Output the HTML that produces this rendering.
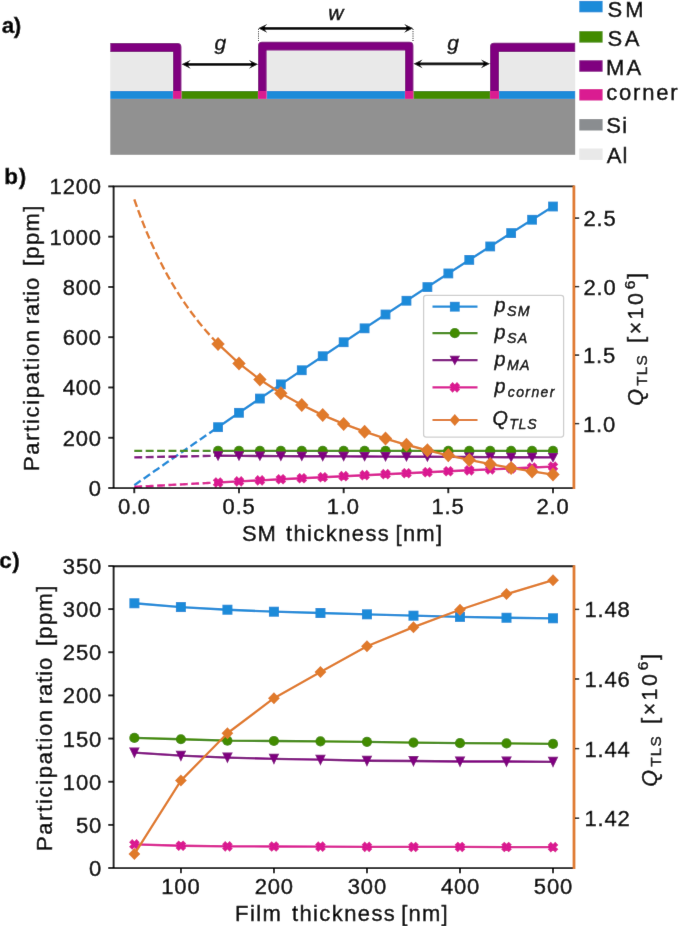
<!DOCTYPE html><html><head><meta charset="utf-8"><style>html,body{margin:0;padding:0;background:#fff;width:685px;height:926px;overflow:hidden}svg{display:block;font-family:"Liberation Sans",sans-serif}text{stroke:#000;stroke-width:0.4px}#w{width:685px;height:926px}</style></head><body><div id="w"><svg width="685" height="926" viewBox="0 0 685 926" font-family='"Liberation Sans", sans-serif'><defs><filter id="bl" filterUnits="userSpaceOnUse" x="-8" y="-8" width="701" height="942"><feConvolveMatrix order="3" kernelMatrix="0.00276 0.04704 0.00276 0.04704 0.80077 0.04704 0.00276 0.04704 0.00276" edgeMode="duplicate" preserveAlpha="true"/></filter></defs><g filter="url(#bl)"><rect x="-8" y="-8" width="701" height="942" fill="#fff"/><rect x="110.3" y="98.9" width="464.9" height="55.9" fill="#919191"/><rect x="110.3" y="91" width="62.7" height="7.9" fill="#1f8bd9"/><rect x="266.6" y="91" width="138.4" height="7.9" fill="#1f8bd9"/><rect x="499" y="91" width="76.2" height="7.9" fill="#1f8bd9"/><rect x="181.4" y="91" width="76.6" height="7.9" fill="#438b00"/><rect x="413.4" y="91" width="76.6" height="7.9" fill="#438b00"/><rect x="173" y="91" width="8.4" height="7.9" fill="#da1a91"/><rect x="258" y="91" width="8.6" height="7.9" fill="#da1a91"/><rect x="405" y="91" width="8.4" height="7.9" fill="#da1a91"/><rect x="490" y="91" width="9" height="7.9" fill="#da1a91"/><rect x="110.3" y="51.9" width="62.7" height="39.1" fill="#e9e9e9"/><rect x="266.6" y="50.4" width="138.4" height="40.6" fill="#e9e9e9"/><rect x="499" y="52.1" width="76.2" height="38.9" fill="#e9e9e9"/><path d="M110.3 43H177.4Q181.4 43 181.4 47V91H173V51.9H110.3Z" fill="#800080"/><path d="M258 91V45.8Q258 41.8 262 41.8H409.4Q413.4 41.8 413.4 45.8V91H405V50.4H266.6V91Z" fill="#800080"/><path d="M490 91V46.8Q490 42.8 494 42.8H575.2V52.1H499V91Z" fill="#800080"/><path d="M258.5 29V42M413 29V42" stroke="#000" stroke-width="0.9" stroke-dasharray="1,1.2" fill="none"/><path d="M262.4 28.3H409" stroke="#000" stroke-width="2.8" fill="none"/><path d="M258.2 28.3L267.2 23.9L263.68 28.3L267.2 32.7Z" fill="#000"/><path d="M413.2 28.3L404.2 23.9L407.72 28.3L404.2 32.7Z" fill="#000"/><path d="M185.8 64.3H253.8" stroke="#000" stroke-width="2.8" fill="none"/><path d="M181.6 64.3L190.6 59.9L187.08 64.3L190.6 68.7Z" fill="#000"/><path d="M258 64.3L249 59.9L252.52 64.3L249 68.7Z" fill="#000"/><path d="M417.7 63.8H485.8" stroke="#000" stroke-width="2.8" fill="none"/><path d="M413.5 63.8L422.5 59.4L418.98 63.8L422.5 68.2Z" fill="#000"/><path d="M490 63.8L481 59.4L484.52 63.8L481 68.2Z" fill="#000"/><text x="214.56" y="49.5" font-size="21" font-style="italic">g</text><text x="447.26" y="49.5" font-size="21" font-style="italic">g</text><text x="328.35" y="19.6" font-size="21" font-style="italic">w</text><text x="1.74" y="33.2" font-size="22.5" letter-spacing="-0.5" font-weight="bold">a)</text><rect x="579.3" y="0.9" width="23.3" height="11.4" fill="#1f8bd9"/><text x="607.6" y="16.8" font-size="22" letter-spacing="2.9">SM</text><rect x="579.3" y="31.2" width="23.3" height="11.4" fill="#438b00"/><text x="607.6" y="45.6" font-size="22" letter-spacing="2.6">SA</text><rect x="579.3" y="60.3" width="23.3" height="11.4" fill="#800080"/><text x="606.1" y="75" font-size="22" letter-spacing="2.05">MA</text><rect x="579.3" y="89.1" width="23.3" height="11.4" fill="#da1a91"/><text x="606.37" y="99.9" font-size="22" letter-spacing="1.75">corner</text><rect x="579.3" y="119.1" width="23.3" height="11.4" fill="#8a8d90"/><text x="606.3" y="132.7" font-size="22" letter-spacing="1.4">Si</text><rect x="579.3" y="148.5" width="23.3" height="11.4" fill="#e9e9e9"/><text x="606.66" y="163.1" font-size="22" letter-spacing="1.05">Al</text><path d="M134.3 485.24L136.39 483.77L138.49 482.3L140.58 480.84L142.67 479.38L144.77 477.91L146.86 476.45L148.95 474.99L151.05 473.53L153.14 472.07L155.24 470.61L157.33 469.15L159.42 467.69L161.52 466.23L163.61 464.78L165.7 463.32L167.8 461.86L169.89 460.41L171.98 458.96L174.08 457.5L176.17 456.05L178.26 454.6L180.36 453.15L182.45 451.7L184.54 450.25L186.64 448.8L188.73 447.35L190.82 445.91L192.92 444.46L195.01 443.01L197.11 441.57L199.2 440.12L201.29 438.68L203.39 437.24L205.48 435.8L207.57 434.35L209.67 432.91L211.76 431.47L213.85 430.03L215.95 428.6L218.04 427.16" fill="none" stroke="#1f8bd9" stroke-width="2.4" stroke-linejoin="round" stroke-dasharray="7.9,3.5"/><path d="M134.3 450.9L136.39 450.9L138.49 450.9L140.58 450.9L142.67 450.9L144.77 450.9L146.86 450.9L148.95 450.9L151.05 450.9L153.14 450.9L155.24 450.9L157.33 450.9L159.42 450.9L161.52 450.9L163.61 450.9L165.7 450.9L167.8 450.9L169.89 450.9L171.98 450.9L174.08 450.9L176.17 450.9L178.26 450.9L180.36 450.9L182.45 450.9L184.54 450.9L186.64 450.9L188.73 450.9L190.82 450.9L192.92 450.9L195.01 450.9L197.11 450.9L199.2 450.9L201.29 450.9L203.39 450.9L205.48 450.9L207.57 450.9L209.67 450.9L211.76 450.9L213.85 450.9L215.95 450.9L218.04 450.9" fill="none" stroke="#438b00" stroke-width="2.4" stroke-linejoin="round" stroke-dasharray="7.9,3.5"/><path d="M134.3 457.34L218.04 455.78" fill="none" stroke="#800080" stroke-width="2.4" stroke-linejoin="round" stroke-dasharray="7.9,3.5"/><path d="M134.3 486.89L136.39 486.78L138.49 486.67L140.58 486.56L142.67 486.44L144.77 486.33L146.86 486.22L148.95 486.11L151.05 486L153.14 485.88L155.24 485.77L157.33 485.66L159.42 485.55L161.52 485.44L163.61 485.33L165.7 485.21L167.8 485.1L169.89 484.99L171.98 484.88L174.08 484.77L176.17 484.66L178.26 484.55L180.36 484.44L182.45 484.33L184.54 484.22L186.64 484.11L188.73 484L190.82 483.89L192.92 483.78L195.01 483.67L197.11 483.56L199.2 483.45L201.29 483.34L203.39 483.23L205.48 483.12L207.57 483.02L209.67 482.91L211.76 482.8L213.85 482.69L215.95 482.58L218.04 482.47" fill="none" stroke="#da1a91" stroke-width="2.4" stroke-linejoin="round" stroke-dasharray="7.9,3.5"/><path d="M134.3 199.35L136.39 205.34L138.49 211.12L140.58 216.72L142.67 222.14L144.77 227.38L146.86 232.47L148.95 237.4L151.05 242.18L153.14 246.82L155.24 251.32L157.33 255.7L159.42 259.95L161.52 264.08L163.61 268.09L165.7 272L167.8 275.8L169.89 279.51L171.98 283.11L174.08 286.62L176.17 290.05L178.26 293.38L180.36 296.64L182.45 299.81L184.54 302.91L186.64 305.93L188.73 308.88L190.82 311.77L192.92 314.58L195.01 317.33L197.11 320.02L199.2 322.65L201.29 325.22L203.39 327.73L205.48 330.19L207.57 332.6L209.67 334.96L211.76 337.27L213.85 339.53L215.95 341.74L218.04 343.91" fill="none" stroke="#e07a2a" stroke-width="2.4" stroke-linejoin="round" stroke-dasharray="7.9,3.5"/><path d="M218.04 427.16L238.98 412.82L259.91 398.56L280.85 384.37L301.78 370.25L322.72 356.2L343.65 342.23L364.59 328.33L385.52 314.5L406.46 300.75L427.39 287.07L448.32 273.46L469.26 259.92L490.2 246.46L511.13 233.07L532.07 219.75L553 206.51" fill="none" stroke="#1f8bd9" stroke-width="2.4" stroke-linejoin="round"/><rect x="213.14" y="422.26" width="9.8" height="9.8" fill="#1f8bd9"/><rect x="234.08" y="407.92" width="9.8" height="9.8" fill="#1f8bd9"/><rect x="255.01" y="393.66" width="9.8" height="9.8" fill="#1f8bd9"/><rect x="275.95" y="379.47" width="9.8" height="9.8" fill="#1f8bd9"/><rect x="296.88" y="365.35" width="9.8" height="9.8" fill="#1f8bd9"/><rect x="317.82" y="351.3" width="9.8" height="9.8" fill="#1f8bd9"/><rect x="338.75" y="337.33" width="9.8" height="9.8" fill="#1f8bd9"/><rect x="359.69" y="323.43" width="9.8" height="9.8" fill="#1f8bd9"/><rect x="380.62" y="309.6" width="9.8" height="9.8" fill="#1f8bd9"/><rect x="401.56" y="295.85" width="9.8" height="9.8" fill="#1f8bd9"/><rect x="422.49" y="282.17" width="9.8" height="9.8" fill="#1f8bd9"/><rect x="443.43" y="268.56" width="9.8" height="9.8" fill="#1f8bd9"/><rect x="464.36" y="255.02" width="9.8" height="9.8" fill="#1f8bd9"/><rect x="485.3" y="241.56" width="9.8" height="9.8" fill="#1f8bd9"/><rect x="506.23" y="228.17" width="9.8" height="9.8" fill="#1f8bd9"/><rect x="527.17" y="214.85" width="9.8" height="9.8" fill="#1f8bd9"/><rect x="548.1" y="201.61" width="9.8" height="9.8" fill="#1f8bd9"/><path d="M218.04 450.9L238.98 450.9L259.91 450.9L280.85 450.9L301.78 450.9L322.72 450.9L343.65 450.9L364.59 450.9L385.52 450.9L406.46 450.9L427.39 450.9L448.32 450.9L469.26 450.9L490.2 450.9L511.13 450.9L532.07 450.9L553 450.9" fill="none" stroke="#438b00" stroke-width="2.4" stroke-linejoin="round"/><circle cx="218.04" cy="450.9" r="5.1" fill="#438b00"/><circle cx="238.98" cy="450.9" r="5.1" fill="#438b00"/><circle cx="259.91" cy="450.9" r="5.1" fill="#438b00"/><circle cx="280.85" cy="450.9" r="5.1" fill="#438b00"/><circle cx="301.78" cy="450.9" r="5.1" fill="#438b00"/><circle cx="322.72" cy="450.9" r="5.1" fill="#438b00"/><circle cx="343.65" cy="450.9" r="5.1" fill="#438b00"/><circle cx="364.59" cy="450.9" r="5.1" fill="#438b00"/><circle cx="385.52" cy="450.9" r="5.1" fill="#438b00"/><circle cx="406.46" cy="450.9" r="5.1" fill="#438b00"/><circle cx="427.39" cy="450.9" r="5.1" fill="#438b00"/><circle cx="448.32" cy="450.9" r="5.1" fill="#438b00"/><circle cx="469.26" cy="450.9" r="5.1" fill="#438b00"/><circle cx="490.2" cy="450.9" r="5.1" fill="#438b00"/><circle cx="511.13" cy="450.9" r="5.1" fill="#438b00"/><circle cx="532.07" cy="450.9" r="5.1" fill="#438b00"/><circle cx="553" cy="450.9" r="5.1" fill="#438b00"/><path d="M218.04 455.78L238.98 455.88L259.91 455.98L280.85 456.08L301.78 456.18L322.72 456.28L343.65 456.38L364.59 456.48L385.52 456.58L406.46 456.68L427.39 456.78L448.32 456.89L469.26 456.99L490.2 457.09L511.13 457.19L532.07 457.29L553 457.39" fill="none" stroke="#800080" stroke-width="2.4" stroke-linejoin="round"/><path d="M212.79 451.27L223.29 451.27L218.04 461.17Z" fill="#800080"/><path d="M233.73 451.37L244.23 451.37L238.98 461.27Z" fill="#800080"/><path d="M254.66 451.47L265.16 451.47L259.91 461.37Z" fill="#800080"/><path d="M275.6 451.57L286.1 451.57L280.85 461.47Z" fill="#800080"/><path d="M296.53 451.67L307.03 451.67L301.78 461.57Z" fill="#800080"/><path d="M317.47 451.77L327.97 451.77L322.72 461.67Z" fill="#800080"/><path d="M338.4 451.87L348.9 451.87L343.65 461.77Z" fill="#800080"/><path d="M359.34 451.98L369.84 451.98L364.59 461.87Z" fill="#800080"/><path d="M380.27 452.08L390.77 452.08L385.52 461.97Z" fill="#800080"/><path d="M401.21 452.18L411.71 452.18L406.46 462.07Z" fill="#800080"/><path d="M422.14 452.28L432.64 452.28L427.39 462.17Z" fill="#800080"/><path d="M443.07 452.38L453.57 452.38L448.32 462.28Z" fill="#800080"/><path d="M464.01 452.48L474.51 452.48L469.26 462.38Z" fill="#800080"/><path d="M484.95 452.58L495.45 452.58L490.2 462.48Z" fill="#800080"/><path d="M505.88 452.68L516.38 452.68L511.13 462.58Z" fill="#800080"/><path d="M526.82 452.78L537.32 452.78L532.07 462.68Z" fill="#800080"/><path d="M547.75 452.88L558.25 452.88L553 462.78Z" fill="#800080"/><path d="M218.04 482.47L238.98 481.4L259.91 480.33L280.85 479.28L301.78 478.23L322.72 477.2L343.65 476.18L364.59 475.18L385.52 474.18L406.46 473.2L427.39 472.22L448.32 471.26L469.26 470.31L490.2 469.37L511.13 468.45L532.07 467.53L553 466.63" fill="none" stroke="#da1a91" stroke-width="2.4" stroke-linejoin="round"/><path d="M215.84 478.07L218.04 480.27L220.24 478.07L222.44 480.27L220.24 482.47L222.44 484.67L220.24 486.87L218.04 484.67L215.84 486.87L213.64 484.67L215.84 482.47L213.64 480.27Z" fill="#da1a91" stroke="#da1a91" stroke-width="1.3"/><path d="M236.78 477L238.98 479.2L241.18 477L243.38 479.2L241.18 481.4L243.38 483.6L241.18 485.8L238.98 483.6L236.78 485.8L234.58 483.6L236.78 481.4L234.58 479.2Z" fill="#da1a91" stroke="#da1a91" stroke-width="1.3"/><path d="M257.71 475.93L259.91 478.13L262.11 475.93L264.31 478.13L262.11 480.33L264.31 482.53L262.11 484.73L259.91 482.53L257.71 484.73L255.51 482.53L257.71 480.33L255.51 478.13Z" fill="#da1a91" stroke="#da1a91" stroke-width="1.3"/><path d="M278.65 474.88L280.85 477.08L283.05 474.88L285.25 477.08L283.05 479.28L285.25 481.48L283.05 483.68L280.85 481.48L278.65 483.68L276.45 481.48L278.65 479.28L276.45 477.08Z" fill="#da1a91" stroke="#da1a91" stroke-width="1.3"/><path d="M299.58 473.83L301.78 476.03L303.98 473.83L306.18 476.03L303.98 478.23L306.18 480.43L303.98 482.63L301.78 480.43L299.58 482.63L297.38 480.43L299.58 478.23L297.38 476.03Z" fill="#da1a91" stroke="#da1a91" stroke-width="1.3"/><path d="M320.52 472.8L322.72 475L324.92 472.8L327.12 475L324.92 477.2L327.12 479.4L324.92 481.6L322.72 479.4L320.52 481.6L318.32 479.4L320.52 477.2L318.32 475Z" fill="#da1a91" stroke="#da1a91" stroke-width="1.3"/><path d="M341.45 471.78L343.65 473.98L345.85 471.78L348.05 473.98L345.85 476.18L348.05 478.38L345.85 480.58L343.65 478.38L341.45 480.58L339.25 478.38L341.45 476.18L339.25 473.98Z" fill="#da1a91" stroke="#da1a91" stroke-width="1.3"/><path d="M362.39 470.78L364.59 472.98L366.79 470.78L368.99 472.98L366.79 475.18L368.99 477.38L366.79 479.58L364.59 477.38L362.39 479.58L360.19 477.38L362.39 475.18L360.19 472.98Z" fill="#da1a91" stroke="#da1a91" stroke-width="1.3"/><path d="M383.32 469.78L385.52 471.98L387.72 469.78L389.92 471.98L387.72 474.18L389.92 476.38L387.72 478.58L385.52 476.38L383.32 478.58L381.12 476.38L383.32 474.18L381.12 471.98Z" fill="#da1a91" stroke="#da1a91" stroke-width="1.3"/><path d="M404.26 468.8L406.46 471L408.66 468.8L410.86 471L408.66 473.2L410.86 475.4L408.66 477.6L406.46 475.4L404.26 477.6L402.06 475.4L404.26 473.2L402.06 471Z" fill="#da1a91" stroke="#da1a91" stroke-width="1.3"/><path d="M425.19 467.82L427.39 470.02L429.59 467.82L431.79 470.02L429.59 472.22L431.79 474.42L429.59 476.62L427.39 474.42L425.19 476.62L422.99 474.42L425.19 472.22L422.99 470.02Z" fill="#da1a91" stroke="#da1a91" stroke-width="1.3"/><path d="M446.12 466.86L448.32 469.06L450.52 466.86L452.72 469.06L450.52 471.26L452.72 473.46L450.52 475.66L448.32 473.46L446.12 475.66L443.93 473.46L446.12 471.26L443.93 469.06Z" fill="#da1a91" stroke="#da1a91" stroke-width="1.3"/><path d="M467.06 465.91L469.26 468.11L471.46 465.91L473.66 468.11L471.46 470.31L473.66 472.51L471.46 474.71L469.26 472.51L467.06 474.71L464.86 472.51L467.06 470.31L464.86 468.11Z" fill="#da1a91" stroke="#da1a91" stroke-width="1.3"/><path d="M488 464.97L490.2 467.17L492.4 464.97L494.6 467.17L492.4 469.37L494.6 471.57L492.4 473.77L490.2 471.57L488 473.77L485.8 471.57L488 469.37L485.8 467.17Z" fill="#da1a91" stroke="#da1a91" stroke-width="1.3"/><path d="M508.93 464.05L511.13 466.25L513.33 464.05L515.53 466.25L513.33 468.45L515.53 470.65L513.33 472.85L511.13 470.65L508.93 472.85L506.73 470.65L508.93 468.45L506.73 466.25Z" fill="#da1a91" stroke="#da1a91" stroke-width="1.3"/><path d="M529.87 463.13L532.07 465.33L534.27 463.13L536.47 465.33L534.27 467.53L536.47 469.73L534.27 471.93L532.07 469.73L529.87 471.93L527.67 469.73L529.87 467.53L527.67 465.33Z" fill="#da1a91" stroke="#da1a91" stroke-width="1.3"/><path d="M550.8 462.23L553 464.43L555.2 462.23L557.4 464.43L555.2 466.63L557.4 468.83L555.2 471.03L553 468.83L550.8 471.03L548.6 468.83L550.8 466.63L548.6 464.43Z" fill="#da1a91" stroke="#da1a91" stroke-width="1.3"/><path d="M218.04 343.91L238.98 363.39L259.91 379.58L280.85 393.25L301.78 404.94L322.72 415.06L343.65 423.9L364.59 431.69L385.52 438.6L406.46 444.78L427.39 450.34L448.32 455.36L469.26 459.92L490.2 464.08L511.13 467.89L532.07 471.39L553 474.62" fill="none" stroke="#e07a2a" stroke-width="2.4" stroke-linejoin="round"/><path d="M218.04 336.91L224.74 343.91L218.04 350.91L211.34 343.91Z" fill="#e07a2a"/><path d="M238.98 356.39L245.68 363.39L238.98 370.39L232.28 363.39Z" fill="#e07a2a"/><path d="M259.91 372.58L266.61 379.58L259.91 386.58L253.21 379.58Z" fill="#e07a2a"/><path d="M280.85 386.25L287.55 393.25L280.85 400.25L274.15 393.25Z" fill="#e07a2a"/><path d="M301.78 397.94L308.48 404.94L301.78 411.94L295.08 404.94Z" fill="#e07a2a"/><path d="M322.72 408.06L329.42 415.06L322.72 422.06L316.02 415.06Z" fill="#e07a2a"/><path d="M343.65 416.9L350.35 423.9L343.65 430.9L336.95 423.9Z" fill="#e07a2a"/><path d="M364.59 424.69L371.29 431.69L364.59 438.69L357.89 431.69Z" fill="#e07a2a"/><path d="M385.52 431.6L392.22 438.6L385.52 445.6L378.82 438.6Z" fill="#e07a2a"/><path d="M406.46 437.78L413.16 444.78L406.46 451.78L399.76 444.78Z" fill="#e07a2a"/><path d="M427.39 443.34L434.09 450.34L427.39 457.34L420.69 450.34Z" fill="#e07a2a"/><path d="M448.32 448.36L455.02 455.36L448.32 462.36L441.62 455.36Z" fill="#e07a2a"/><path d="M469.26 452.92L475.96 459.92L469.26 466.92L462.56 459.92Z" fill="#e07a2a"/><path d="M490.2 457.08L496.9 464.08L490.2 471.08L483.5 464.08Z" fill="#e07a2a"/><path d="M511.13 460.89L517.83 467.89L511.13 474.89L504.43 467.89Z" fill="#e07a2a"/><path d="M532.07 464.39L538.77 471.39L532.07 478.39L525.37 471.39Z" fill="#e07a2a"/><path d="M553 467.62L559.7 474.62L553 481.62L546.3 474.62Z" fill="#e07a2a"/><path d="M113.6 186.4V488.1H573.8" stroke="#000" stroke-width="1.85" fill="none"/><path d="M112.8 186.4H574.4" stroke="#000" stroke-width="1.85" fill="none"/><path d="M573.9 185.4V489.1" stroke="#e07a2a" stroke-width="2.8" fill="none"/><path d="M108.3 488H113.6" stroke="#000" stroke-width="1.85"/><text x="88.72" y="496" font-size="22" letter-spacing="0.8">0</text><path d="M108.3 437.73H113.6" stroke="#000" stroke-width="1.85"/><text x="62.65" y="445.73" font-size="22" letter-spacing="0.8">200</text><path d="M108.3 387.47H113.6" stroke="#000" stroke-width="1.85"/><text x="62.65" y="395.47" font-size="22" letter-spacing="0.8">400</text><path d="M108.3 337.2H113.6" stroke="#000" stroke-width="1.85"/><text x="62.65" y="345.2" font-size="22" letter-spacing="0.8">600</text><path d="M108.3 286.94H113.6" stroke="#000" stroke-width="1.85"/><text x="62.65" y="294.94" font-size="22" letter-spacing="0.8">800</text><path d="M108.3 236.67H113.6" stroke="#000" stroke-width="1.85"/><text x="49.62" y="244.67" font-size="22" letter-spacing="0.8">1000</text><path d="M108.3 186.4H113.6" stroke="#000" stroke-width="1.85"/><text x="49.62" y="194.4" font-size="22" letter-spacing="0.8">1200</text><path d="M134.3 488V493.2" stroke="#000" stroke-width="1.85"/><text x="117.91" y="514.2" font-size="22" letter-spacing="0.8">0.0</text><path d="M238.98 488V493.2" stroke="#000" stroke-width="1.85"/><text x="222.62" y="514.2" font-size="22" letter-spacing="0.8">0.5</text><path d="M343.65 488V493.2" stroke="#000" stroke-width="1.85"/><text x="326.85" y="514.2" font-size="22" letter-spacing="0.8">1.0</text><path d="M448.32 488V493.2" stroke="#000" stroke-width="1.85"/><text x="431.56" y="514.2" font-size="22" letter-spacing="0.8">1.5</text><path d="M553 488V493.2" stroke="#000" stroke-width="1.85"/><text x="536.48" y="514.2" font-size="22" letter-spacing="0.8">2.0</text><path d="M575 423.6H579.2" stroke="#000" stroke-width="1.4"/><text x="583.02" y="431.6" font-size="22" letter-spacing="0.8">1.0</text><path d="M575 355.1H579.2" stroke="#000" stroke-width="1.4"/><text x="583.02" y="363.1" font-size="22" letter-spacing="0.8">1.5</text><path d="M575 286.6H579.2" stroke="#000" stroke-width="1.4"/><text x="583.59" y="294.6" font-size="22" letter-spacing="0.8">2.0</text><path d="M575 218.1H579.2" stroke="#000" stroke-width="1.4"/><text x="583.59" y="226.1" font-size="22" letter-spacing="0.8">2.5</text><text x="241.9" y="540.8" font-size="22" letter-spacing="0.9">SM</text><text x="285.97" y="540.8" font-size="22" letter-spacing="1.39">thickness</text><text x="395.53" y="540.8" font-size="22" letter-spacing="1.25">[nm]</text><text transform="translate(38.5 471) rotate(-90)" font-size="22" letter-spacing="1.67">Participation</text><text transform="translate(38.5 324.16) rotate(-90)" font-size="22" letter-spacing="0.9">ratio</text><text transform="translate(38.5 266.07) rotate(-90)" font-size="22" letter-spacing="1.33">[ppm]</text><text transform="translate(643.3 405.86) rotate(-90)" font-size="21.5" font-style="italic">Q</text><text transform="translate(647.1 385.85) rotate(-90)" font-size="15.4" letter-spacing="1.2">TLS</text><text transform="translate(643.3 342.73) rotate(-90)" font-size="21.5" letter-spacing="2.4">[×10</text><text transform="translate(634.7 289.29) rotate(-90)" font-size="15.5">6</text><text transform="translate(643.3 278.97) rotate(-90)" font-size="21.5">]</text><text x="4.32" y="184" font-size="22.5" letter-spacing="0.6" font-weight="bold">b)</text><rect x="423.6" y="295.3" width="140" height="141.8" rx="2.5" fill="#fff" fill-opacity="0.85" stroke="#cfcfcf" stroke-width="1.3"/><path d="M432.5 306.7H477.5" stroke="#1f8bd9" stroke-width="2.2"/><rect x="449.9" y="301.8" width="9.8" height="9.8" fill="#1f8bd9"/><text x="494.39" y="312.2" font-size="19.8" font-style="italic">p</text><text x="507.1" y="316.1" font-size="14.2" letter-spacing="1.2" font-style="italic">SM</text><path d="M432.5 333.2H477.5" stroke="#438b00" stroke-width="2.2"/><circle cx="454.8" cy="333.2" r="5.1" fill="#438b00"/><text x="494.39" y="338.7" font-size="19.8" font-style="italic">p</text><text x="507.1" y="342.6" font-size="14.2" letter-spacing="1.2" font-style="italic">SA</text><path d="M432.5 360.2H477.5" stroke="#800080" stroke-width="2.2"/><path d="M449.55 355.69L460.05 355.69L454.8 365.59Z" fill="#800080"/><text x="494.39" y="365.7" font-size="19.8" font-style="italic">p</text><text x="507.06" y="369.6" font-size="14.2" letter-spacing="1.2" font-style="italic">MA</text><path d="M432.5 387.4H477.5" stroke="#da1a91" stroke-width="2.2"/><path d="M452.6 383L454.8 385.2L457 383L459.2 385.2L457 387.4L459.2 389.6L457 391.8L454.8 389.6L452.6 391.8L450.4 389.6L452.6 387.4L450.4 385.2Z" fill="#da1a91" stroke="#da1a91" stroke-width="1.3"/><text x="494.39" y="392.9" font-size="19.8" font-style="italic">p</text><text x="507.74" y="397" font-size="14" letter-spacing="1.4" font-style="italic">corner</text><path d="M432.5 420H477.5" stroke="#e07a2a" stroke-width="2.2"/><path d="M454.8 414L460.1 420L454.8 426L449.5 420Z" fill="#e07a2a"/><text x="492.52" y="424.9" font-size="19.8" font-style="italic">Q</text><text x="509.14" y="429.1" font-size="14" letter-spacing="0.9" font-style="italic">TLS</text><path d="M134.38 603.26L180.9 607.06L227.42 609.73L273.93 611.72L320.45 613.01L366.96 614.31L413.48 615.69L459.99 616.9L506.5 617.76L553.02 618.28" fill="none" stroke="#1f8bd9" stroke-width="2.3" stroke-linejoin="round"/><rect x="129.38" y="598.26" width="10" height="10" fill="#1f8bd9"/><rect x="175.9" y="602.06" width="10" height="10" fill="#1f8bd9"/><rect x="222.42" y="604.73" width="10" height="10" fill="#1f8bd9"/><rect x="268.93" y="606.72" width="10" height="10" fill="#1f8bd9"/><rect x="315.45" y="608.01" width="10" height="10" fill="#1f8bd9"/><rect x="361.96" y="609.31" width="10" height="10" fill="#1f8bd9"/><rect x="408.48" y="610.69" width="10" height="10" fill="#1f8bd9"/><rect x="454.99" y="611.9" width="10" height="10" fill="#1f8bd9"/><rect x="501.5" y="612.76" width="10" height="10" fill="#1f8bd9"/><rect x="548.02" y="613.28" width="10" height="10" fill="#1f8bd9"/><path d="M134.38 737.96L180.9 739.26L227.42 740.64L273.93 740.98L320.45 741.33L366.96 741.84L413.48 742.62L459.99 743.22L506.5 743.4L553.02 743.91" fill="none" stroke="#438b00" stroke-width="2.3" stroke-linejoin="round"/><circle cx="134.38" cy="737.96" r="5.1" fill="#438b00"/><circle cx="180.9" cy="739.26" r="5.1" fill="#438b00"/><circle cx="227.42" cy="740.64" r="5.1" fill="#438b00"/><circle cx="273.93" cy="740.98" r="5.1" fill="#438b00"/><circle cx="320.45" cy="741.33" r="5.1" fill="#438b00"/><circle cx="366.96" cy="741.84" r="5.1" fill="#438b00"/><circle cx="413.48" cy="742.62" r="5.1" fill="#438b00"/><circle cx="459.99" cy="743.22" r="5.1" fill="#438b00"/><circle cx="506.5" cy="743.4" r="5.1" fill="#438b00"/><circle cx="553.02" cy="743.91" r="5.1" fill="#438b00"/><path d="M134.38 752.54L180.9 755.65L227.42 757.55L273.93 758.84L320.45 759.71L366.96 760.74L413.48 761L459.99 761.52L506.5 761.52L553.02 761.78" fill="none" stroke="#800080" stroke-width="2.3" stroke-linejoin="round"/><path d="M129.08 747.53L139.69 747.53L134.38 758.54Z" fill="#800080"/><path d="M175.6 750.64L186.2 750.64L180.9 761.65Z" fill="#800080"/><path d="M222.12 752.53L232.72 752.53L227.42 763.54Z" fill="#800080"/><path d="M268.63 753.83L279.23 753.83L273.93 764.84Z" fill="#800080"/><path d="M315.15 754.69L325.75 754.69L320.45 765.7Z" fill="#800080"/><path d="M361.66 755.73L372.26 755.73L366.96 766.74Z" fill="#800080"/><path d="M408.18 755.99L418.78 755.99L413.48 767Z" fill="#800080"/><path d="M454.69 756.5L465.29 756.5L459.99 767.51Z" fill="#800080"/><path d="M501.2 756.5L511.81 756.5L506.5 767.51Z" fill="#800080"/><path d="M547.72 756.76L558.32 756.76L553.02 767.77Z" fill="#800080"/><path d="M134.38 844.44L180.9 845.74L227.42 846.34L273.93 846.51L320.45 846.69L366.96 846.86L413.48 846.95L459.99 846.95L506.5 847.03L553.02 847.12" fill="none" stroke="#da1a91" stroke-width="2.3" stroke-linejoin="round"/><path d="M132.19 840.04L134.38 842.24L136.58 840.04L138.78 842.24L136.58 844.44L138.78 846.64L136.58 848.84L134.38 846.64L132.19 848.84L129.98 846.64L132.19 844.44L129.98 842.24Z" fill="#da1a91" stroke="#da1a91" stroke-width="1.3"/><path d="M178.7 841.34L180.9 843.54L183.1 841.34L185.3 843.54L183.1 845.74L185.3 847.94L183.1 850.14L180.9 847.94L178.7 850.14L176.5 847.94L178.7 845.74L176.5 843.54Z" fill="#da1a91" stroke="#da1a91" stroke-width="1.3"/><path d="M225.22 841.94L227.42 844.14L229.62 841.94L231.82 844.14L229.62 846.34L231.82 848.54L229.62 850.74L227.42 848.54L225.22 850.74L223.02 848.54L225.22 846.34L223.02 844.14Z" fill="#da1a91" stroke="#da1a91" stroke-width="1.3"/><path d="M271.73 842.11L273.93 844.31L276.13 842.11L278.33 844.31L276.13 846.51L278.33 848.71L276.13 850.91L273.93 848.71L271.73 850.91L269.53 848.71L271.73 846.51L269.53 844.31Z" fill="#da1a91" stroke="#da1a91" stroke-width="1.3"/><path d="M318.25 842.29L320.45 844.49L322.65 842.29L324.85 844.49L322.65 846.69L324.85 848.89L322.65 851.09L320.45 848.89L318.25 851.09L316.05 848.89L318.25 846.69L316.05 844.49Z" fill="#da1a91" stroke="#da1a91" stroke-width="1.3"/><path d="M364.76 842.46L366.96 844.66L369.16 842.46L371.36 844.66L369.16 846.86L371.36 849.06L369.16 851.26L366.96 849.06L364.76 851.26L362.56 849.06L364.76 846.86L362.56 844.66Z" fill="#da1a91" stroke="#da1a91" stroke-width="1.3"/><path d="M411.28 842.55L413.48 844.75L415.68 842.55L417.88 844.75L415.68 846.95L417.88 849.15L415.68 851.35L413.48 849.15L411.28 851.35L409.08 849.15L411.28 846.95L409.08 844.75Z" fill="#da1a91" stroke="#da1a91" stroke-width="1.3"/><path d="M457.79 842.55L459.99 844.75L462.19 842.55L464.39 844.75L462.19 846.95L464.39 849.15L462.19 851.35L459.99 849.15L457.79 851.35L455.59 849.15L457.79 846.95L455.59 844.75Z" fill="#da1a91" stroke="#da1a91" stroke-width="1.3"/><path d="M504.31 842.63L506.5 844.83L508.7 842.63L510.9 844.83L508.7 847.03L510.9 849.23L508.7 851.43L506.5 849.23L504.31 851.43L502.11 849.23L504.31 847.03L502.11 844.83Z" fill="#da1a91" stroke="#da1a91" stroke-width="1.3"/><path d="M550.82 842.72L553.02 844.92L555.22 842.72L557.42 844.92L555.22 847.12L557.42 849.32L555.22 851.52L553.02 849.32L550.82 851.52L548.62 849.32L550.82 847.12L548.62 844.92Z" fill="#da1a91" stroke="#da1a91" stroke-width="1.3"/><path d="M134.38 854.04L180.9 780.62L227.42 733.29L273.93 698.14L320.45 672.04L366.96 646.29L413.48 627.15L459.99 609.75L506.5 594.09L553.02 580.17" fill="none" stroke="#e07a2a" stroke-width="2.3" stroke-linejoin="round"/><path d="M134.38 848.04L140.28 854.04L134.38 860.04L128.48 854.04Z" fill="#e07a2a"/><path d="M180.9 774.62L186.8 780.62L180.9 786.62L175 780.62Z" fill="#e07a2a"/><path d="M227.42 727.29L233.32 733.29L227.42 739.29L221.52 733.29Z" fill="#e07a2a"/><path d="M273.93 692.14L279.83 698.14L273.93 704.14L268.03 698.14Z" fill="#e07a2a"/><path d="M320.45 666.04L326.35 672.04L320.45 678.04L314.55 672.04Z" fill="#e07a2a"/><path d="M366.96 640.29L372.86 646.29L366.96 652.29L361.06 646.29Z" fill="#e07a2a"/><path d="M413.48 621.15L419.38 627.15L413.48 633.15L407.58 627.15Z" fill="#e07a2a"/><path d="M459.99 603.75L465.89 609.75L459.99 615.75L454.09 609.75Z" fill="#e07a2a"/><path d="M506.5 588.09L512.4 594.09L506.5 600.09L500.61 594.09Z" fill="#e07a2a"/><path d="M553.02 574.17L558.92 580.17L553.02 586.17L547.12 580.17Z" fill="#e07a2a"/><path d="M113.6 566.2V868.1H574" stroke="#000" stroke-width="1.85" fill="none"/><path d="M112.8 566.2H574.6" stroke="#000" stroke-width="1.85" fill="none"/><path d="M574 565.2V869.1" stroke="#e07a2a" stroke-width="2.8" fill="none"/><path d="M108.3 868H113.6" stroke="#000" stroke-width="1.85"/><text x="88.92" y="876" font-size="22" letter-spacing="0.8">0</text><path d="M108.3 824.86H113.6" stroke="#000" stroke-width="1.85"/><text x="75.89" y="832.86" font-size="22" letter-spacing="0.8">50</text><path d="M108.3 781.71H113.6" stroke="#000" stroke-width="1.85"/><text x="62.85" y="789.71" font-size="22" letter-spacing="0.8">100</text><path d="M108.3 738.57H113.6" stroke="#000" stroke-width="1.85"/><text x="62.85" y="746.57" font-size="22" letter-spacing="0.8">150</text><path d="M108.3 695.42H113.6" stroke="#000" stroke-width="1.85"/><text x="62.85" y="703.42" font-size="22" letter-spacing="0.8">200</text><path d="M108.3 652.27H113.6" stroke="#000" stroke-width="1.85"/><text x="62.85" y="660.27" font-size="22" letter-spacing="0.8">250</text><path d="M108.3 609.13H113.6" stroke="#000" stroke-width="1.85"/><text x="62.85" y="617.13" font-size="22" letter-spacing="0.8">300</text><path d="M108.3 565.99H113.6" stroke="#000" stroke-width="1.85"/><text x="62.85" y="573.99" font-size="22" letter-spacing="0.8">350</text><path d="M180.9 868V873.2" stroke="#000" stroke-width="1.85"/><text x="161.34" y="894.4" font-size="22" letter-spacing="0.8">100</text><path d="M273.93 868V873.2" stroke="#000" stroke-width="1.85"/><text x="254.65" y="894.4" font-size="22" letter-spacing="0.8">200</text><path d="M366.96 868V873.2" stroke="#000" stroke-width="1.85"/><text x="347.82" y="894.4" font-size="22" letter-spacing="0.8">300</text><path d="M459.99 868V873.2" stroke="#000" stroke-width="1.85"/><text x="441.01" y="894.4" font-size="22" letter-spacing="0.8">400</text><path d="M553.02 868V873.2" stroke="#000" stroke-width="1.85"/><text x="533.86" y="894.4" font-size="22" letter-spacing="0.8">500</text><path d="M575 818.2H579.2" stroke="#000" stroke-width="1.4"/><text x="584.52" y="826.2" font-size="22" letter-spacing="0.8">1.42</text><path d="M575 748.6H579.2" stroke="#000" stroke-width="1.4"/><text x="584.52" y="756.6" font-size="22" letter-spacing="0.8">1.44</text><path d="M575 679H579.2" stroke="#000" stroke-width="1.4"/><text x="584.52" y="687" font-size="22" letter-spacing="0.8">1.46</text><path d="M575 609.4H579.2" stroke="#000" stroke-width="1.4"/><text x="584.52" y="617.4" font-size="22" letter-spacing="0.8">1.48</text><text x="235.1" y="920.8" font-size="22" letter-spacing="1.37">Film</text><text x="291.97" y="920.8" font-size="22" letter-spacing="1.39">thickness</text><text x="401.13" y="920.8" font-size="22" letter-spacing="1.25">[nm]</text><text transform="translate(52.2 851) rotate(-90)" font-size="22" letter-spacing="1.67">Participation</text><text transform="translate(52.2 704.16) rotate(-90)" font-size="22" letter-spacing="0.9">ratio</text><text transform="translate(52.2 646.07) rotate(-90)" font-size="22" letter-spacing="1.33">[ppm]</text><text transform="translate(656.9 786.86) rotate(-90)" font-size="21.5" font-style="italic">Q</text><text transform="translate(660.7 766.85) rotate(-90)" font-size="15.4" letter-spacing="1.2">TLS</text><text transform="translate(656.9 723.73) rotate(-90)" font-size="21.5" letter-spacing="2.4">[×10</text><text transform="translate(648.3 670.29) rotate(-90)" font-size="15.5">6</text><text transform="translate(656.9 659.97) rotate(-90)" font-size="21.5">]</text><text x="-0.88" y="567.6" font-size="22.5" letter-spacing="0.6" font-weight="bold">c)</text></g></svg></div></body></html>
